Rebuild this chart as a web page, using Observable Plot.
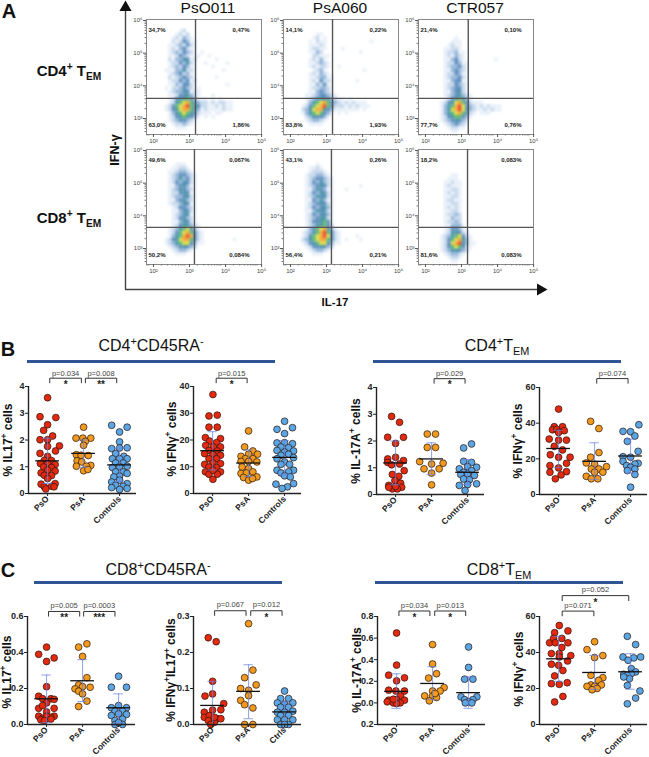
<!DOCTYPE html>
<html><head><meta charset="utf-8">
<script src="https://cdn.jsdelivr.net/npm/d3@7"></script>
<script src="https://cdn.jsdelivr.net/npm/@observablehq/plot@0.6"></script>
<style>
html,body{margin:0;background:#fff}
#chart{position:relative;width:649px;height:757px;overflow:hidden;font-family:"Liberation Sans",Arial,sans-serif;color:#111}
.lab{position:absolute;white-space:nowrap;line-height:1}
.lab sup,.lab sub{font-size:68%;line-height:0}
</style></head><body><div id="chart"></div>
<script>
// ---------- A: flow cytometry density (0 = empty, 1-9 = density class)
const flow1=[
"0000000000000000000000","0000120000000000000000","0001212000000000000000","0012132100000000000000","0021243110000000000000",
"0112324210000000000000","0121342110000000000000","0123243210100000000000","0112432111001000000000","0213354120000010000000",
"0122435210010000010000","0123243110000100000000","1113352210000000100000","0123423110000000000000","0212343210000010000000",
"0122434120000000000000","0113244210000000010000","1022343211000000000000","0123354121000000000000","0112445321000100000000",
"0124556431110101000000","0125678643221212211000","1246789654221121211000","1245788653121111211000","0135676542111011000000",
"0124565431010100000000","0123443210000000000000","0012232100000000000000","0001110000000000000000"];
const flow2=[
"0000000000000000000000","0000000000000000000000","0000110000000000000000","0001201000000000000000","0010211000000000000100",
"0011121000000000000000","0012211000010000000000","0011320000000000100000","0002211100000000000000","0012131000000000000000",
"0011232100000000000000","0012122100100000000000","0001231000000000010000","0012132100000000000000","0011233110000000000000",
"0012142210000001000000","0011324110000000000000","0012233210000000000000","0011343210000000000000","0112344321000000000000",
"0123455432110100000000","0135678643212121110000","1246789642221212111000","2357885431111111010000","1356764310101000000000",
"0235443100000000000000","0123321000000000000000","0011110000000000000000"];
const flow3=[
"0000000000000000000000","0000000000000000000000","0000000000000000000000","0000010000000000000000","0000111000000000000000",
"0001211000000000000000","0011221000000000000000","0012231100000000000000","0012132100000000000000","0011342100000000100000",
"0012243110000000000000","0012334210000000000000","0011343210000000000000","0012243110000000000000","0012334210000000000000",
"0011344110000000000000","0012243210000000000000","0012344210000000000000","0011345210000000000000","0012345321000000000000",
"0012456431000000000000","0124578642111000000000","0135689743212121110000","0135789753211212110000","0135678642101110000000",
"0124566431000000000000","0123454320000000000000","0012343210000000000000","0001221100000000000000","0000110000000000000000"];
const flow4=[
"0000000000000000000000","0000000000000000000000","0001110000000000000000","0011221000000000000000","0112332100000000000000",
"0123443210000000000000","0123534210000000000000","0124354210000000000000","0113453110000000000000","0123543210000000000000",
"0122454110000000000000","0123345210000000000000","0113453210000000000000","0122354110000000000000","0012443210000000000000",
"0011354210000000000000","0012345110000000000000","0012453210000000000000","0011354210000000000000","0012455321000000000000",
"0123567531000000000000","0124678642100000000000","0135689852100000000000","1245788642100000000100","1235677531100000000000",
"0123454320000000000000","0012332100000000000000","0001110000000000000000"];
const flow5=[
"0000000000000000000000","0000000000000000000000","0000100000000000000000","0011210000000000000000","0012221000000000000000",
"0122332100000000000000","0123443210000000000000","0124353210000000000000","0123454210000000100000","0113543110001000000000",
"0124354210000000000000","0123545210000000000000","0114353110000000000000","0123454210000000000000","0124345310000000000000",
"0113554210000000000000","0124345310000000000000","0123455210000000000000","0124456410000000000000","0123556420000000000000",
"0134678531000000000000","1235689642100000000000","1246789742100001000000","2356788642101000100000","1245677531100000000000",
"0124454320000000000000","0012332100000000000000","0001110000000000000000"];
const flow6=[
"0000000000000000000000","0000000000000000000000","0000000000000000000000","0000000000000000000000","0000000000000000000000",
"0000110000000000000000","0001110000000000000000","0011211000000000000000","0012111000000000000000","0011221000000000000000",
"0012121000000000000000","0011221000000000000000","0012211000000000000000","0011221000000000000000","0012121000000000000000",
"0011221000000000000000","0012232000000000000000","0011322000000000000000","0012232000000000000000","0011333100000000000000",
"0012443100000000000000","0012554210000000000000","0123567421000000000000","0124678531000000000000","0124789531100000000000",
"0124676421000000000000","0123554320000000000000","0012332100000000000000","0001221000000000000000","0000110000000000000000"];
const flowColors=["#e9f0f8","#c6d8ec","#94b5d9","#5c8dbd","#4a93a6","#5cb874","#d9dc46","#f2a633","#e84e2b"];
const flowLabels=[["34,7%","0,47%","63,0%","1,86%"],["14,1%","0,22%","83,8%","1,93%"],["21,4%","0,10%","77,7%","0,76%"],
                  ["49,6%","0,067%","50,2%","0,084%"],["43,1%","0,26%","56,4%","0,21%"],["18,2%","0,083%","81,6%","0,083%"]];
const sampleNames=["PsO011","PsA060","CTR057"];

// ---------- B: [offset from category, value]
const b1PsO=[[0,3.58],[-.21,2.87],[.23,2.84],[0,2.57],[-.11,2.36],[.14,2.15],[-.21,2.01],[0,2.01],[0,1.76],[.33,1.78],[.22,1.59],[-.21,1.5],[0,1.39],[-.09,1.24],[.11,1.23],[-.2,1.12],[0,1.12],[.21,1.08],[-.11,.99],[.11,.97],[-.18,.77],[0,.87],[.21,.84],[-.09,.68],[.11,.67],[0,.56],[-.18,.35],[.21,.37],[-.09,.25],[.11,.27],[-.05,.17],[.18,.25]];
const b1PsA=[[0,2.48],[-.21,2.07],[.2,2.07],[-.02,2.07],[.05,1.95],[0,1.8],[-.2,1.45],[-.07,1.43],[.13,1.42],[-.18,1.22],[-.05,1.18],[.2,1.05],[-.2,1.02],[.08,1.02],[0,.85],[.12,.9]];
const b1Ctl=[[-.22,2.55],[0,2.3],[.21,2.48],[0,1.93],[-.22,1.68],[0,1.7],[.21,1.71],[-.11,1.49],[.12,1.39],[-.2,1.3],[0,1.3],[.21,1.3],[-.11,1.14],[.1,1.14],[-.2,.97],[0,1],[.21,1.02],[-.11,.81],[.1,.81],[0,.65],[.21,.75],[-.16,.62],[-.22,.43],[0,.5],[.21,.37],[-.11,.31],[.1,.27],[-.22,.22],[0,.15],[.21,.19]];
const b2PsO=[[.01,37],[-.1,29],[.13,29.3],[-.1,24.8],[.13,24.8],[-.2,20.9],[.22,20.5],[-.08,19.6],[.11,19],[-.19,18],[.02,17.4],[.22,17.4],[-.1,16.1],[.13,15.9],[-.22,14.9],[.01,14.5],[.22,14.3],[-.1,13],[.11,13],[-.22,10.9],[.01,11.4],[.22,11.2],[-.1,9.9],[.11,9.7],[-.2,8.1],[.22,8.1],[-.1,7.2],[.13,7.2],[.01,5.3],[.01,8.7]];
const b2PsA=[[0,23.4],[-.11,17.4],[.12,15.9],[-.21,13.9],[.25,14.7],[0,14.7],[-.09,13],[-.21,12],[.12,13],[0,12],[.23,11.8],[-.18,9.9],[0,9.3],[-.21,7.5],[-.06,7.7],[.12,8.1],[-.14,6],[.23,6.2],[0,5],[.11,5.6]];
const b2Ctl=[[0,27],[-.21,24],[.22,24.6],[0,22.4],[-.21,18.9],[0,19],[.22,18.6],[-.1,17.4],[.11,17.1],[-.21,16.1],[.25,15.9],[0,15.5],[-.1,14.3],[.11,14.7],[-.21,13],[.25,13.4],[0,11.8],[-.1,10.9],[.14,10.9],[-.21,8.7],[.25,8.7],[-.1,7.7],[.11,8.1],[0,6.6],[.16,6.2],[-.24,3.5],[.25,3.7],[.08,2.5],[-.07,1.9]];
const b3PsO=[[-.11,2.92],[.11,2.7],[-.22,2.14],[.22,2.14],[0,1.91],[-.22,1.33],[0,1.39],[.22,1.27],[-.22,1.2],[-.11,1.11],[.11,1.14],[.24,.89],[-.09,.75],[.09,.68],[-.02,.52],[.14,.42],[-.19,.34],[.17,.27],[-.09,.21],[.05,.21],[-.19,.27],[0,.3]];
const b3PsA=[[-.12,2.26],[.11,2.26],[-.12,1.76],[.11,1.76],[-.33,1.23],[.32,1.17],[0,1.14],[-.21,.96],[.21,.96],[0,.8],[0,.36]];
const b3Ctl=[[-.11,1.74],[.11,1.89],[-.11,1.24],[.11,1.2],[0,1.04],[-.23,.96],[.25,1.02],[-.11,.83],[.11,.89],[0,.77],[-.19,.75],[.19,.71],[.05,.55],[-.11,.58],[.25,.4],[-.23,.34],[0,.37],[-.07,.15]];
const b4PsO=[[0,47.9],[-.12,38],[.11,38],[-.17,36.3],[-.05,36.5],[.16,35.8],[0,34.8],[-.26,31.1],[0,30.5],[.22,30.5],[-.12,27],[.11,25],[-.23,22.3],[0,20.9],[.32,20.9],[.22,17.5],[-.24,16.2],[0,14.9],[-.24,12.5],[.22,12.8],[.07,11],[-.09,8.8]];
const b4PsA=[[-.11,41],[.12,37],[-.11,20.9],[.12,23.5],[-.23,17.7],[0,17],[.33,15.6],[-.09,14.3],[.12,14.3],[-.23,10.2],[.23,12.5],[0,12.5],[-.09,8.8],[.09,8.8]];
const b4Ctl=[[-.21,35.4],[0,35.2],[.23,39.1],[.12,32.8],[-.09,29.8],[-.21,21.2],[.21,24.2],[0,20.9],[-.21,18.6],[.21,17.5],[.12,17.1],[-.11,16.2],[0,15.3],[.12,14.3],[-.09,13.4],[.12,11.2],[0,4.1]];

// ---------- C
const c1PsO=[[0,.43],[-.22,.39],[0,.35],[.21,.37],[0,.21],[-.22,.157],[-.11,.143],[.12,.143],[.21,.14],[-.22,.09],[0,.12],[.21,.09],[-.11,.105],[0,.07],[-.22,.046],[.21,.046],[-.11,.035],[.12,.04],[0,.046],[-.16,.026],[-.06,.022],[.12,.03]];
const c1PsA=[[-.11,.43],[.12,.448],[0,.378],[.12,.26],[-.11,.22],[-.21,.198],[.21,.207],[0,.21],[-.11,.185],[0,.17],[.12,.13],[-.11,.1]];
const c1Ctl=[[0,.268],[-.2,.207],[.22,.207],[0,.105],[-.2,.093],[.22,.093],[-.1,.074],[.11,.074],[-.2,.05],[0,.059],[.22,.056],[-.1,.022],[.11,.03],[-.1,0],[.11,0],[0,.01]];
const c2PsO=[[-.12,.241],[.1,.23],[0,.12],[-.21,.079],[0,.085],[.31,.058],[-.23,.034],[0,.04],[.23,.041],[-.23,.02],[-.09,.025],[.14,.016],[.23,.016],[-.12,.011],[.05,.006],[-.05,0],[.05,.02]];
const c2PsA=[[0,.28],[.12,.151],[-.11,.13],[.21,.11],[-.22,.1],[0,.095],[-.22,.067],[0,.08],[-.11,.055],[.12,.046],[-.11,0],[.12,0]];
const c2Ctl=[[0,.093],[-.11,.072],[.11,.072],[-.2,.06],[0,.056],[.23,.06],[-.11,.048],[.11,.048],[-.2,.034],[0,.034],[.23,.037],[-.11,.025],[.11,.025],[-.2,.013],[.23,.013],[0,.013],[-.11,0],[.11,0],[0,0]];
const c3PsO=[[0,.647],[0,.35],[-.22,.257],[.22,.232],[0,.204],[-.22,.118],[-.02,.11],[.22,.11],[.11,.065],[-.22,.025],[0,.03],[.22,.025],[-.26,.01],[-.09,0],[.1,0],[0,-.006],[-.09,.034]];
const c3PsA=[[0,.54],[0,.36],[.11,.27],[-.11,.23],[.32,.142],[.21,.11],[0,.11],[-.22,.065],[0,.065],[.11,.05],[-.09,.019],[.07,.087]];
const c3Ctl=[[0,.518],[0,.328],[-.11,.22],[.12,.22],[.23,.056],[-.21,.056],[-.11,.03],[.12,.03],[0,.01],[-.09,0],[.09,0]];
const c4PsO=[[.02,55],[-.11,51],[.26,52],[-.25,45.4],[-.14,47.8],[.09,47.8],[-.09,45.4],[.26,45.4],[.09,42.8],[-.2,39.4],[.02,39.4],[.34,38.3],[.02,37.5],[.25,35.3],[-.2,33.5],[0,32.9],[.12,30],[-.11,27],[.24,23.2],[-.2,22.7],[.02,22.3],[.12,15.6],[-.11,12.5]];
const c4PsA=[[0,46],[-.21,41.6],[.23,38.3],[0,37.2],[-.1,27.3],[.23,26],[.11,24.5],[-.1,22],[-.21,21.2],[.19,22],[0,21.2],[.07,20],[-.07,19.3]];
const c4Ctl=[[-.09,49],[.14,44.4],[-.21,37.5],[.28,37.5],[.09,37],[-.07,35.7],[.02,31],[-.19,27.9],[.14,29.2],[.02,28.3],[-.09,27.3],[-.03,25.5],[-.19,26.4],[-.09,21.7],[.26,18.6],[.14,14.7],[-.09,11.5]];

const catsFull=["PsO","PsA","Controls"], catsShort=["PsO","PsA","Ctrls"];
const groupFill=["#e3290f","#f09a1f","#5ba6e4"];

// panel tables: mean, sd high, sd low per group
const panels=[
 {ax:28,top:386,bot:493,dom:[0,4],ticks:[0,1,2,3,4],fmt:d=>d,cats:catsFull,data:[b1PsO,b1PsA,b1Ctl],mean:[1.22,1.5,1.07],hi:[2.07,2.0,1.7],lo:[.37,.98,.45],
  br:[{x1:.06,x2:.94,y:4.31,t:4.14,l:4.5,p:"p=0.034",s:"*"},{x1:1.05,x2:1.92,y:4.31,t:4.14,l:4.5,p:"p=0.008",s:"**"}]},
 {ax:193,top:386,bot:493,dom:[0,40],ticks:[0,10,20,30,40],fmt:d=>d,cats:catsFull,data:[b2PsO,b2PsA,b2Ctl],mean:[16,11.4,13.5],hi:[23.1,16.3,19.8],lo:[8.8,6.3,7],
  br:[{x1:.1,x2:.96,y:43.1,t:41.4,l:45,p:"p=0.015",s:"*"}]},
 {ax:376,top:387,bot:494,dom:[0,4],ticks:[0,1,2,3,4],fmt:d=>d,cats:catsFull,data:[b3PsO,b3PsA,b3Ctl],mean:[1.18,1.33,.83],hi:[2,1.93,1.3],lo:[.36,.74,.38],
  br:[{x1:1.07,x2:1.93,y:4.33,t:4.16,l:4.52,p:"p=0.029",s:"*"}]},
 {ax:539,top:387,bot:494,dom:[0,60],ticks:[0,20,40,60],fmt:d=>d,cats:catsFull,data:[b4PsO,b4PsA,b4Ctl],mean:[25.8,18.6,21.6],hi:[36,29,31],lo:[15,8.5,12],
  br:[{x1:1.06,x2:1.93,y:65,t:62.4,l:68,p:"p=0.074",s:""}]},
 {ax:27,top:616,bot:724,dom:[0,.6],ticks:[0,.2,.4,.6],fmt:d=>d.toFixed(1),cats:catsFull,data:[c1PsO,c1PsA,c1Ctl],mean:[.143,.243,.093],hi:[.275,.36,.17],lo:[.01,.128,.01],
  br:[{x1:.055,x2:.92,y:.628,t:.602,l:.661,p:"p=0.005",s:"**"},{x1:1.03,x2:1.9,y:.628,t:.602,l:.661,p:"p=0.0003",s:"***"}]},
 {ax:193,top:616,bot:724,dom:[0,.3],ticks:[0,.1,.2,.3],fmt:d=>d.toFixed(1),cats:catsShort,data:[c2PsO,c2PsA,c2Ctl],mean:[.053,.092,.035],hi:[.12,.166,.063],lo:[0,.016,0],
  br:[{x1:.056,x2:.93,y:.316,t:.303,l:.333,p:"p=0.067",s:""},{x1:1.06,x2:1.93,y:.316,t:.303,l:.333,p:"p=0.012",s:"*"}]},
 {ax:377,top:616,bot:724,dom:[-.2,.8],ticks:[-.2,0,.2,.4,.6,.8],fmt:d=>Math.abs(d).toFixed(1),cats:catsFull,data:[c3PsO,c3PsA,c3Ctl],mean:[.107,.18,.095],hi:[.27,.335,.24],lo:[-.05,.03,-.05],
  br:[{x1:.065,x2:.925,y:.851,t:.808,l:.9,p:"p=0.034",s:"*"},{x1:1.06,x2:1.92,y:.851,t:.808,l:.9,p:"p=0.013",s:"*"}]},
 {ax:539,top:616,bot:724,dom:[0,60],ticks:[0,20,40,60],fmt:d=>d,cats:catsFull,data:[c4PsO,c4PsA,c4Ctl],mean:[36.5,28.9,29.3],hi:[49,38.4,39.3],lo:[24,19.5,19.6],
  br:[{x1:.1,x2:.98,y:63,t:60.4,l:66,p:"p=0.071",s:""},{x1:.1,x2:1.95,y:71.6,t:68.8,l:74.7,p:"p=0.052",s:"*"}]}
];
const catDomain=[-.53,2.47], plotW=108;
const root=document.getElementById("chart");
const pos=(l,t)=>({position:"absolute",left:l+"px",top:t+"px",background:"transparent",overflow:"visible",fontFamily:'"Liberation Sans",Arial,sans-serif'});

function label(html,x,y,size,weight,rot){
  const e=document.createElement("div");e.className="lab";e.innerHTML=html;
  e.style.cssText=`left:${x}px;top:${y}px;font-size:${size}px;font-weight:${weight};transform:translate(-50%,-50%) rotate(${rot||0}deg)`;
  root.appendChild(e);
}

// ---------- decorations: page axes of A and section rules
const rules=[{x1:27,x2:275,y:361},{x1:373,x2:621,y:361},{x1:34,x2:282,y:582},{x1:375,x2:623,y:582}];
root.appendChild(Plot.plot({width:649,height:757,margin:0,x:{domain:[0,649],range:[0,649],axis:null},y:{domain:[0,757],range:[0,757],axis:null},
  style:pos(0,0),
  marks:[
    Plot.ruleY(rules,{x1:"x1",x2:"x2",y:"y",stroke:"#2f5597",strokeWidth:3}),
    Plot.ruleX([125],{y1:8,y2:289,stroke:"#444",strokeWidth:1.4}),
    Plot.ruleY([289],{x1:125,x2:538,stroke:"#444",strokeWidth:1.4}),
    Plot.dot([[125,7]],{x:"0",y:"1",symbol:"triangle",r:4.5,fill:"#111",stroke:null}),
    Plot.dot([[540,289]],{x:"0",y:"1",symbol:"triangle",rotate:90,r:4.5,fill:"#111",stroke:null})
  ]}));

// ---------- A: flow panels
const flowBoxes=[
 {rows:flow1,l:146,t:19,gx:3.25,gy:3.615},{rows:flow2,l:283,t:19,gx:3.25,gy:3.615},{rows:flow3,l:418,t:19,gx:3.27,gy:3.615},
 {rows:flow4,l:146,t:149,gx:3.22,gy:3.645},{rows:flow5,l:283,t:149,gx:3.22,gy:3.645},{rows:flow6,l:418,t:149,gx:3.25,gy:3.645}];
const sup={2:"²",3:"³",4:"⁴",5:"⁵",6:"⁶"};
const decadeFmt=d=>"10"+sup[Math.round(Math.log10(d))];
const minors=(ds)=>ds.flatMap(k=>[2,3,4,5,6,7,8,9].map(m=>m*10**k));
flowBoxes.forEach((b,i)=>{
  const cells=[];
  b.rows.forEach((row,r)=>[...row].forEach((ch,c)=>{
    if(ch!=="0") cells.push({x1:10**(2.4+.1*c),x2:10**(2.5+.1*c),y1:10**(5.84-.11*r),y2:10**(5.73-.11*r),level:+ch});
  }));
  const [tl,tr,bl,br]=flowLabels[i];
  const txt={fill:"#222",fontSize:6,fontWeight:"bold"};
  const svg=Plot.plot({width:140,height:135,marginLeft:20,marginRight:5,marginTop:4,marginBottom:16,
    style:pos(b.l-20,b.t-4),
    x:{type:"log",domain:[10**1.89,10**5.08],axis:null},
    y:{type:"log",domain:[10**2.51,10**6.03],axis:null},
    color:{type:"ordinal",domain:[1,2,3,4,5,6,7,8,9],range:flowColors},
    marks:[
      Plot.rect(cells,{x1:"x1",x2:"x2",y1:"y1",y2:"y2",fill:"level"}),
      Plot.frame({stroke:"#888",strokeWidth:1}),
      Plot.axisX(minors([1,2,3,4]).filter(d=>d>10**1.89&&d<10**5.08),{anchor:"bottom",tickSize:1.5,tickFormat:()=>"",label:null,stroke:"#777"}),
      Plot.axisY(minors([2,3,4,5]).filter(d=>d>10**2.51&&d<10**6.03),{anchor:"left",tickSize:1.5,tickFormat:()=>"",label:null,stroke:"#777"}),
      Plot.axisX([1e2,1e3,1e4,1e5],{anchor:"bottom",tickSize:3,tickPadding:1,tickFormat:decadeFmt,fontSize:6,label:null,stroke:"#555",fill:"#444",dx:3}),
      Plot.axisY([1e3,1e4,1e5,1e6],{anchor:"left",tickSize:3,tickPadding:1,tickFormat:decadeFmt,fontSize:6,label:null,stroke:"#555",fill:"#444"}),
      Plot.ruleX([10**b.gx],{stroke:"#555",strokeWidth:1.4}),
      Plot.ruleY([10**b.gy],{stroke:"#555",strokeWidth:1.4}),
      Plot.text([tl],{frameAnchor:"top-left",dx:2,dy:8,...txt}),
      Plot.text([tr],{frameAnchor:"top-right",dx:-12,dy:8,...txt}),
      Plot.text([bl],{frameAnchor:"bottom-left",dx:2,dy:-8,...txt}),
      Plot.text([br],{frameAnchor:"bottom-right",dx:-12,dy:-8,...txt})
    ]});
  const g=svg.querySelector('g[aria-label="rect"]');
  if(g) g.style.filter="blur(0.8px)";
  root.appendChild(svg);
});
sampleNames.forEach((n,i)=>label(n,[208,340,475][i],8,15.5,"normal"));
label("A",9,11,20,"bold");
label("CD4<sup>+</sup> T<sub>EM</sub>",69,70,15,"bold");
label("CD8<sup>+</sup> T<sub>EM</sub>",69,217,15,"bold");
label("IFN-γ",115,150,12.5,"bold",-90);
label("IL-17",335,303,11.5,"bold");

// ---------- B, C: scatter panels
panels.forEach(p=>{
  const points=p.data.flatMap((arr,g)=>arr.map(([o,v])=>({x:g+o,v,g})));
  const stats=p.mean.map((m,g)=>({g,m,hi:p.hi[g],lo:p.lo[g]}));
  const brLines=p.br.flatMap((b,i)=>[[b.x1,b.t],[b.x1,b.y],[b.x2,b.y],[b.x2,b.t]].map(([x,y])=>({x,y,i})));
  const mL=30,mT=48,mR=8,H=p.bot-p.top;
  const mB=Math.min(50,757-p.bot);
  root.appendChild(Plot.plot({width:mL+plotW+mR,height:mT+H+mB,marginLeft:mL,marginRight:mR,marginTop:mT,marginBottom:mB,
    style:pos(p.ax-mL,p.top-mT),
    x:{domain:catDomain,axis:null},
    y:{domain:p.dom,axis:null},
    color:{type:"ordinal",domain:[0,1,2],range:groupFill},
    marks:[
      Plot.dot(points,{x:"x",y:"v",fill:"g",stroke:"#2a1510",strokeWidth:.7,r:3.4}),
      Plot.ruleX(stats,{x:"g",y1:"lo",y2:"hi",stroke:"#6b82e0",strokeWidth:1,strokeOpacity:.75}),
      Plot.ruleY(stats,{y:"hi",x1:d=>d.g-.13,x2:d=>d.g+.13,stroke:"#6b82e0",strokeWidth:1,strokeOpacity:.75}),
      Plot.ruleY(stats,{y:"lo",x1:d=>d.g-.13,x2:d=>d.g+.13,stroke:"#6b82e0",strokeWidth:1,strokeOpacity:.75}),
      Plot.ruleY(stats,{y:"m",x1:d=>d.g-.33,x2:d=>d.g+.33,stroke:"#111",strokeWidth:1.3}),
      Plot.ruleX([catDomain[0]],{y1:p.dom[0],y2:p.dom[1],stroke:"#222",strokeWidth:1.4}),
      Plot.ruleY([p.dom[0]],{x1:catDomain[0],x2:catDomain[1],stroke:"#222",strokeWidth:1.4}),
      Plot.axisY({ticks:p.ticks,tickFormat:p.fmt,tickSize:3,tickPadding:1,fontSize:9,fontWeight:"bold",label:null,fill:"#222",stroke:"#222"}),
      Plot.axisX({ticks:[0,1,2],tickFormat:d=>p.cats[d],tickSize:3,tickPadding:1,tickRotate:-45,fontSize:8.5,fontWeight:"bold",label:null,fill:"#222",stroke:"#222"}),
      Plot.line(brLines,{x:"x",y:"y",z:"i",stroke:"#333",strokeWidth:1}),
      Plot.text(p.br,{x:d=>(d.x1+d.x2)/2,y:"l",text:"p",fontSize:7.5,fill:"#444"}),
      Plot.text(p.br,{x:d=>(d.x1+d.x2)/2,y:"t",text:"s",fontSize:10,fontWeight:"bold",fill:"#222",dy:2})
    ]}));
});

// titles and y labels
label("B",8,349,20,"bold");
label("C",8,570,20,"bold");
label("CD4<sup>+</sup>CD45RA<sup>-</sup>",151,346,16,"normal");
label("CD4<sup>+</sup>T<sub>EM</sub>",497,346,16,"normal");
label("CD8<sup>+</sup>CD45RA<sup>-</sup>",158,570,16,"normal");
label("CD8<sup>+</sup>T<sub>EM</sub>",499,570,16,"normal");
label("% IL17<sup>+</sup> cells",8,440,12,"bold",-90);
label("% IFNγ<sup>+</sup> cells",172,439,12,"bold",-90);
label("% IL-17A<sup>+</sup> cells",356,441,12,"bold",-90);
label("% IFNγ<sup>+</sup> cells",518,441,12,"bold",-90);
label("% IL17<sup>+</sup> cells",7,672,12,"bold",-90);
label("% IFNγ<sup>+</sup>IL17<sup>+</sup> cells",171,670,12,"bold",-90);
label("% IL-17A<sup>+</sup> cells",357,670,12,"bold",-90);
label("% IFNγ<sup>+</sup> cells",519,669,12,"bold",-90);
</script></body></html>
